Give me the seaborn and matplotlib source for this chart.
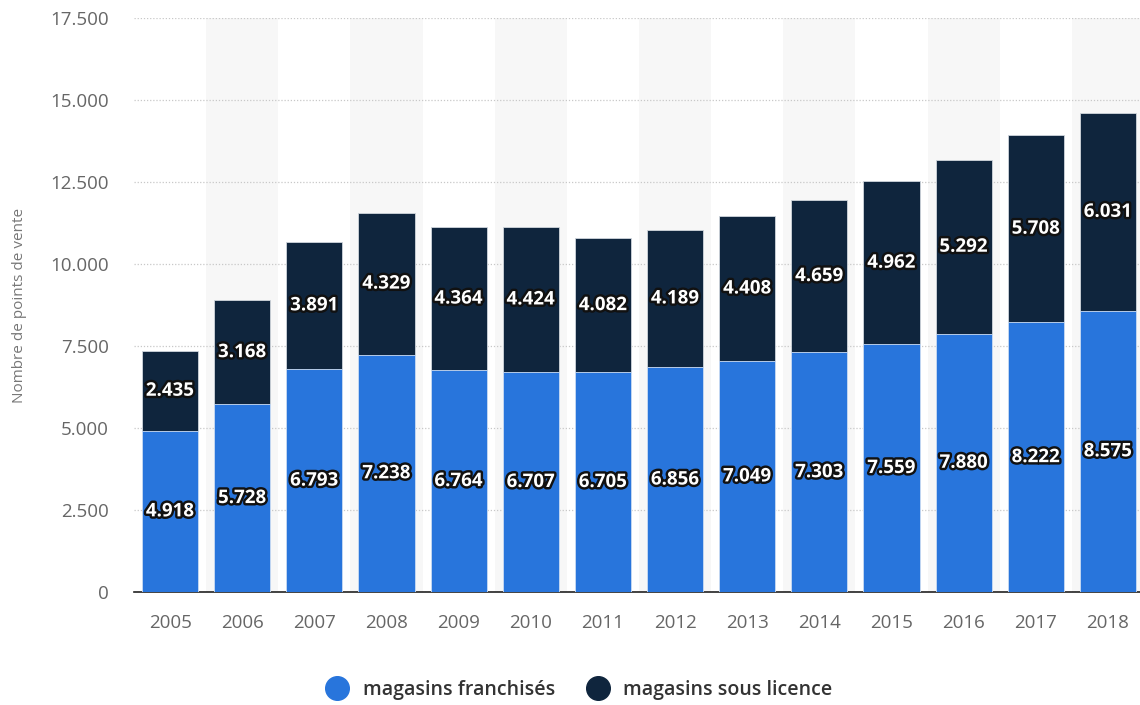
import matplotlib
matplotlib.use("Agg")
import matplotlib.pyplot as plt
import matplotlib.patheffects as pe
from matplotlib.lines import Line2D
from matplotlib.ticker import FuncFormatter
import seaborn as sns
import pandas as pd

years = ["2005", "2006", "2007", "2008", "2009", "2010", "2011",
         "2012", "2013", "2014", "2015", "2016", "2017", "2018"]
franchises = [4918, 5728, 6793, 7238, 6764, 6707, 6705, 6856, 7049, 7303, 7559, 7880, 8222, 8575]
licences = [2435, 3168, 3891, 4329, 4364, 4424, 4082, 4189, 4408, 4659, 4962, 5292, 5708, 6031]
series_names = ["magasins franchisés", "magasins sous licence"]
y_label = "Nombre de points de vente"

BLUE = "#2875dc"
DARK = "#0f253d"

df = pd.DataFrame({"year": years, "fr": franchises, "lic": licences})
df["total"] = df["fr"] + df["lic"]

sns.set_style("white")
plt.rcParams["font.family"] = ["Open Sans", "DejaVu Sans"]

fig = plt.figure(figsize=(11.4, 7.05), dpi=100)
ax = fig.add_axes([134 / 1140, (705 - 592) / 705, 1010 / 1140, 574 / 705])

# alternating bands
for i in range(len(years)):
    if i % 2 == 1:
        ax.axvspan(i - 0.5, i + 0.5, color="#f7f7f7", zorder=0, lw=0)

sns.barplot(data=df, x="year", y="total", color=DARK, width=0.78, ax=ax,
            saturation=1, edgecolor="#d0d6dd", linewidth=0.6, zorder=2)
sns.barplot(data=df, x="year", y="fr", color=BLUE, width=0.78, ax=ax,
            saturation=1, edgecolor="#cfe0f7", linewidth=0.6, zorder=3)

ax.set_ylim(0, 17500)
ax.set_xlim(-0.5, 13.5)
ax.set_yticks([0, 2500, 5000, 7500, 10000, 12500, 15000, 17500])
ax.yaxis.set_major_formatter(FuncFormatter(lambda v, p: f"{int(v):,}".replace(",", ".")))
ax.yaxis.grid(True, linestyle=(0, (1, 1.5)), color="#c8c8c8", linewidth=0.9, zorder=1)
ax.set_axisbelow(True)
for s in ["top", "right", "left"]:
    ax.spines[s].set_visible(False)
ax.spines["bottom"].set_color("#222222")
ax.spines["bottom"].set_linewidth(1.2)
ax.tick_params(axis="both", colors="#666666", labelsize=13.5, length=0)
ax.tick_params(axis="x", pad=16)
ax.tick_params(axis="y", pad=18)
ax.set_xlabel("")
ax.set_ylabel(y_label, color="#777777", fontsize=11)
ax.yaxis.set_label_coords(-0.106, 0.5)

effects = [pe.withStroke(linewidth=3.5, foreground="#111111")]
for i, (f, l) in enumerate(zip(franchises, licences)):
    ax.text(i, f / 2, f"{f:,}".replace(",", "."), ha="center", va="center",
            color="white", fontsize=13.5, fontweight="bold", path_effects=effects, zorder=5)
    ax.text(i, f + l / 2, f"{l:,}".replace(",", "."), ha="center", va="center",
            color="white", fontsize=13.5, fontweight="bold", path_effects=effects, zorder=5)

handles = [Line2D([0], [0], marker="o", color="none", markerfacecolor=BLUE, markeredgecolor=BLUE, markersize=17),
           Line2D([0], [0], marker="o", color="none", markerfacecolor=DARK, markeredgecolor=DARK, markersize=17)]
leg = fig.legend(handles, series_names, loc="center", bbox_to_anchor=(575 / 1140, 1 - 690 / 705),
                 ncol=2, frameon=False, fontsize=14, handletextpad=0.3, columnspacing=1.2)
for t in leg.get_texts():
    t.set_color("#333333")
    t.set_fontweight("semibold")

fig.savefig("out.png", dpi=100)
